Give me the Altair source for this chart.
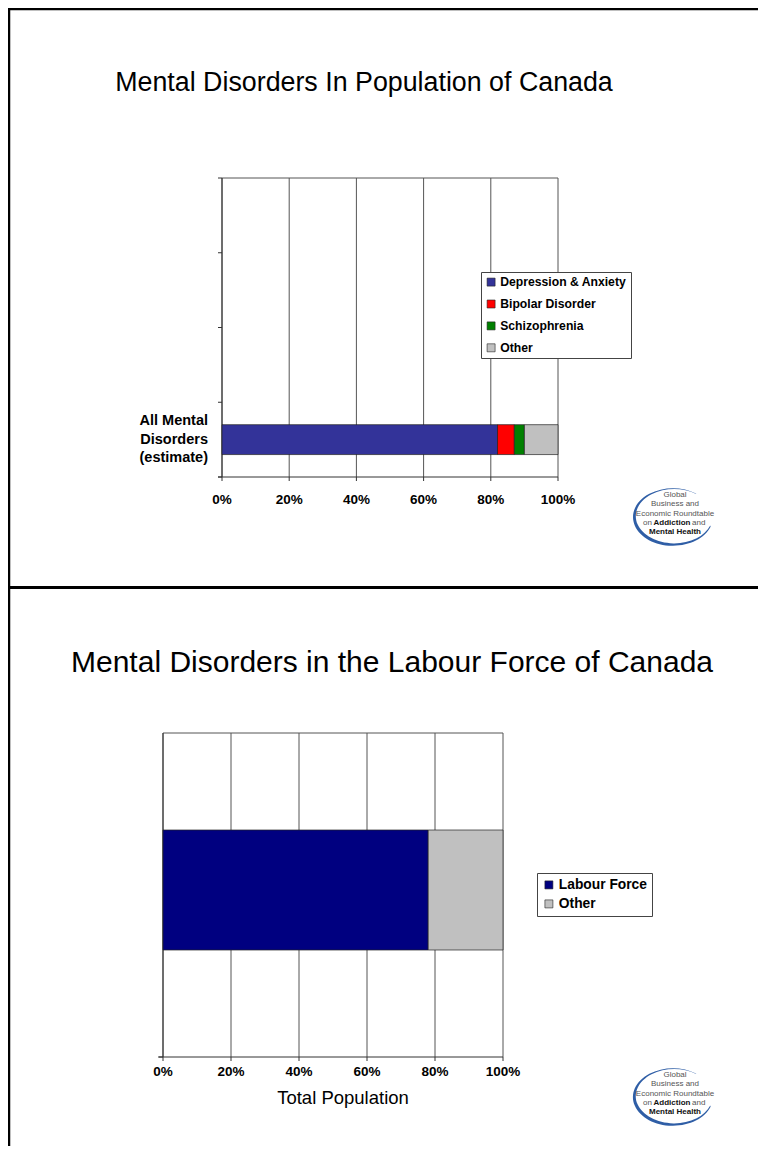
import altair as alt
import pandas as pd

# ---------------- data ----------------
top_categories = ["Depression & Anxiety", "Bipolar Disorder", "Schizophrenia", "Other"]
top_values = [82, 5, 3, 10]
top_colors = ["#333399", "#FF0000", "#008000", "#C0C0C0"]
top_rows = ["row1", "row2", "row3", "All Mental Disorders (estimate)"]
top_row_label = ["All Mental", "Disorders", "(estimate)"]

bottom_categories = ["Labour Force", "Other"]
bottom_values = [78, 22]
bottom_colors = ["#000080", "#C0C0C0"]
bottom_rows = ["Total Population"]

tick_values = [0, 20, 40, 60, 80, 100]
tick_labels = ["0%", "20%", "40%", "60%", "80%", "100%"]

top_title = "Mental Disorders In Population of Canada"
bottom_title = "Mental Disorders in the Labour Force of Canada"
bottom_axis_title = "Total Population"
logo_lines = ["Global", "Business and", "Economic Roundtable"]
logo_bold = "Mental Health"

FONT = "Liberation Sans"
W, H = 750, 1138

def stacked(cats, vals, row):
    df = pd.DataFrame({"cat": cats, "val": vals})
    df["end"] = df["val"].cumsum()
    df["start"] = df["end"] - df["val"]
    df["row"] = row
    df["order"] = range(len(cats))
    return df

top_df = stacked(top_categories, top_values, top_rows[-1])
bot_df = stacked(bottom_categories, bottom_values, bottom_rows[0])
ticks_df = pd.DataFrame({"v": tick_values, "lab": tick_labels})
one = pd.DataFrame({"d": [0]})

# ---------------- scales ----------------
def xs(panel):
    rng = [214, 550] if panel == "top" else [155, 495]
    return alt.Scale(domain=[0, 100], range=rng)

top_y = alt.Scale(domain=top_rows, range=[170, 469], paddingInner=0.6, paddingOuter=0.3)
bot_y = alt.Scale(domain=bottom_rows, range=[702, 1062], paddingInner=0, paddingOuter=1)

GRID = "#555555"
AXIS = "#333333"

def hline(y, x1, x2, color=GRID, w=1):
    return alt.Chart(one).mark_rule(color=color, strokeWidth=w).encode(
        x=alt.value(x1), x2=alt.value(x2), y=alt.value(y))

def vline(x, y1, y2, color=GRID, w=1):
    return alt.Chart(one).mark_rule(color=color, strokeWidth=w).encode(
        x=alt.value(x), y=alt.value(y1), y2=alt.value(y2))

def panel(which, df, yscale, colors, cats, plot_top, plot_bot, legend_xy, legend_fs, legend_row, legend_pad):
    x_lo, x_hi = (214, 550) if which == "top" else (155, 495)
    grid = alt.Chart(ticks_df).mark_rule(color=GRID, strokeWidth=1).encode(
        x=alt.X("v:Q", scale=xs(which), axis=None),
        y=alt.value(plot_top), y2=alt.value(plot_bot))
    downticks = alt.Chart(ticks_df).mark_rule(color=AXIS, strokeWidth=1).encode(
        x=alt.X("v:Q", scale=xs(which), axis=None),
        y=alt.value(plot_bot), y2=alt.value(plot_bot + 4))
    labels = alt.Chart(ticks_df).mark_text(
        font=FONT, fontWeight="bold", fontSize=13.5, color="#000", baseline="middle"
    ).encode(
        x=alt.X("v:Q", scale=xs(which), axis=None),
        y=alt.value(plot_bot + 23 if which == "top" else plot_bot + 15),
        text="lab:N")
    bars = alt.Chart(df).mark_bar(stroke="#222222", strokeWidth=0.7).encode(
        x=alt.X("start:Q", scale=xs(which), axis=None),
        x2="end:Q",
        y=alt.Y("row:N", scale=yscale, axis=None),
        color=alt.Color("cat:N", scale=alt.Scale(domain=cats, range=colors),
                        legend=alt.Legend(
                            orient="none", legendX=legend_xy[0], legendY=legend_xy[1],
                            title=None, strokeColor="#444444", fillColor="#FFFFFF",
                            padding=legend_pad, symbolType="square", symbolSize=64,
                            symbolStrokeColor="#222222", symbolStrokeWidth=0.6,
                            labelFont=FONT, labelFontWeight="bold",
                            labelFontSize=legend_fs, labelColor="#000000",
                            labelOffset=3, rowPadding=legend_row, symbolOpacity=1)),
        order="order:Q")
    layers = [grid, downticks,
              hline(plot_top, x_lo, x_hi),
              hline(plot_bot, x_lo - 4, x_hi, AXIS),
              vline(x_lo, plot_top, plot_bot, AXIS),
              bars, labels]
    return layers

# ----- top slide -----
top_layers = panel("top", top_df, top_y, top_colors, top_categories, 170, 469, (473, 264), 12.2, 8.9, 4)
band_df = pd.DataFrame({"b": [0, 1, 2, 3, 4]})
top_layers.append(alt.Chart(band_df).mark_rule(color=AXIS).encode(
    y=alt.Y("b:Q", scale=alt.Scale(domain=[0, 4], range=[469, 170]), axis=None),
    x=alt.value(210), x2=alt.value(214)))
top_layers.append(alt.Chart(pd.DataFrame({"row": [top_rows[-1]], "t": [top_row_label]})).mark_text(
    font=FONT, fontWeight="bold", fontSize=14.5, align="right", baseline="middle",
    lineHeight=18.8, dy=-18.8, color="#000").encode(
    y=alt.Y("row:N", scale=top_y, axis=None), x=alt.value(200), text="t"))
top_layers.append(alt.Chart(one).mark_text(font=FONT, fontSize=26.8, color="#000",
                                            align="center", baseline="middle").encode(
    x=alt.value(356), y=alt.value(75), text=alt.value(top_title)))

# ----- bottom slide -----
bot_layers = panel("bottom", bot_df, bot_y, bottom_colors, bottom_categories, 725, 1049, (529, 865), 13.8, 4, 5)
bot_layers.append(hline(1049, 150, 155, AXIS))
bot_layers.append(alt.Chart(one).mark_text(font=FONT, fontSize=30, color="#000",
                                            align="center", baseline="middle").encode(
    x=alt.value(384), y=alt.value(655), text=alt.value(bottom_title)))
bot_layers.append(alt.Chart(one).mark_text(font=FONT, fontSize=18.5, color="#000",
                                            align="center", baseline="middle").encode(
    x=alt.value(335), y=alt.value(1090), text=alt.value(bottom_axis_title)))

# ----- logos -----
ELLIPSE = ("M 0.574 -0.590 A 1 0.72 0 1 0 0.940 0.246 L 0.932 0.213 "
           "A 0.96 0.68 0 1 1 0.581 -0.577 Z")

def logo(cx, cy):
    out = [alt.Chart(one).mark_point(shape=ELLIPSE, filled=True, size=6400,
                                     color="#2F5EA6", opacity=1).encode(
        x=alt.value(cx - 1), y=alt.value(cy + 4))]
    ty = cy - 18
    for ln in logo_lines:
        out.append(alt.Chart(one).mark_text(font=FONT, fontSize=8, color="#555555",
                                            baseline="middle").encode(
            x=alt.value(cx + 1), y=alt.value(ty), text=alt.value(ln)))
        ty += 9.3
    out.append(alt.Chart(one).mark_text(font=FONT, fontSize=8, color="#555555",
                                        baseline="middle", align="right").encode(
        x=alt.value(cx - 22), y=alt.value(ty), text=alt.value("on")))
    out.append(alt.Chart(one).mark_text(font=FONT, fontSize=8, fontWeight="bold",
                                        color="#111111", baseline="middle").encode(
        x=alt.value(cx - 2), y=alt.value(ty), text=alt.value("Addiction")))
    out.append(alt.Chart(one).mark_text(font=FONT, fontSize=8, color="#555555",
                                        baseline="middle", align="left").encode(
        x=alt.value(cx + 18), y=alt.value(ty), text=alt.value("and")))
    ty += 9.3
    out.append(alt.Chart(one).mark_text(font=FONT, fontSize=8, fontWeight="bold",
                                        color="#111111", baseline="middle").encode(
        x=alt.value(cx + 1), y=alt.value(ty), text=alt.value(logo_bold)))
    return out

logo_layers = logo(666, 505) + logo(666, 1085)

# ----- frame lines -----
frame = [
    hline(1, 0, W, "#000000", 2.5),
    vline(1, 0, H, "#000000", 2.5),
    hline(579.5, 0, W, "#000000", 3),
]

chart = alt.layer(*(top_layers + bot_layers + logo_layers + frame)).resolve_scale(
    x="independent", y="independent", color="independent"
).properties(
    width=W, height=H, padding=0,
    autosize=alt.AutoSizeParams(type="none"),
    background="#FFFFFF",
).configure_view(stroke=None)

chart.save("out.html", embed_options={"renderer": "svg", "actions": False})
